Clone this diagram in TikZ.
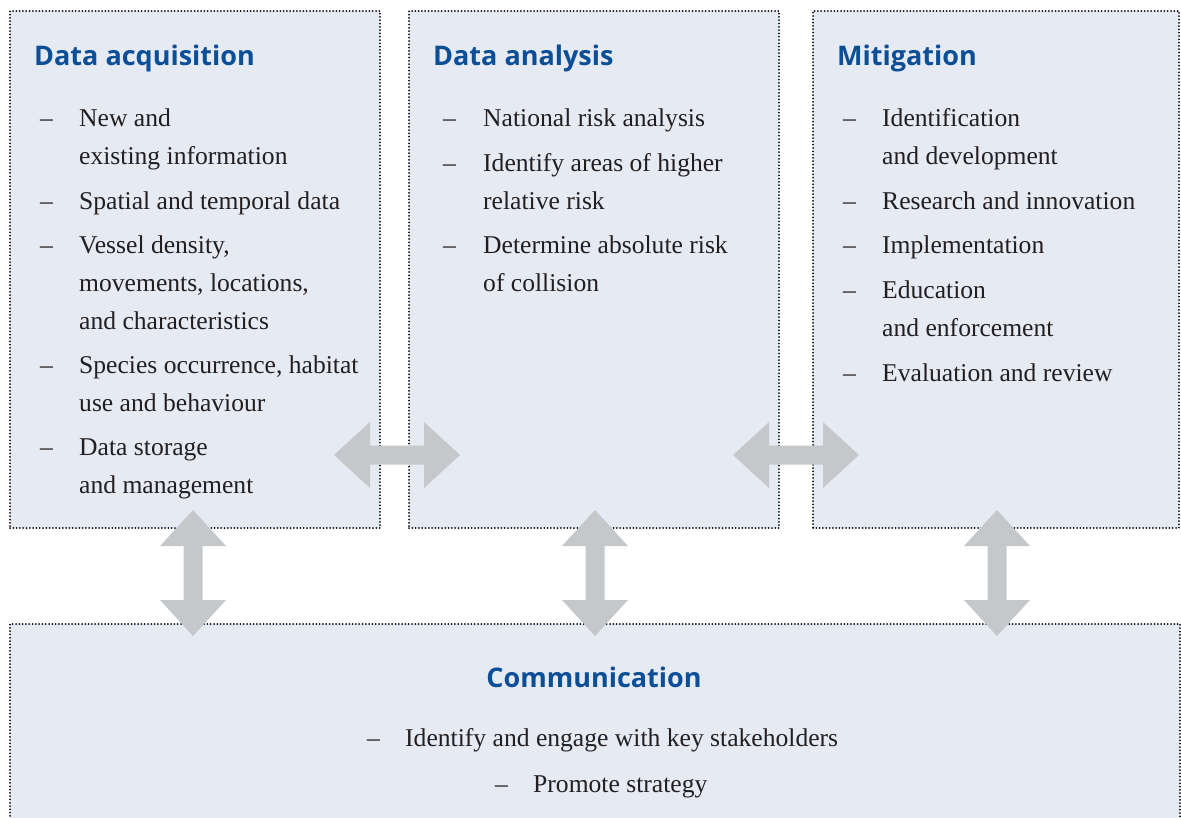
\documentclass[tikz,border=0pt]{standalone}
\usepackage{fontspec}
\setmainfont{Liberation Serif}
\newfontfamily\titlefont{Open Sans}
\definecolor{boxfill}{RGB}{230,234,243}
\definecolor{titleblue}{RGB}{12,79,150}
\definecolor{arrowgrey}{RGB}{197,200,202}
\definecolor{dotc}{RGB}{10,10,15}
\definecolor{txt}{RGB}{35,31,32}
\tikzset{
  box/.style={rectangle, draw=dotc, fill=boxfill, line width=2pt, dash pattern=on 0pt off 3.3pt, line cap=round, inner sep=0pt, anchor=north west},
  ttl/.style={anchor=base west, inner sep=0pt, text=titleblue, font=\titlefont\bfseries\fontsize{27}{30}\selectfont},
  bd/.style={anchor=base west, inner sep=0pt, text=txt, font=\fontsize{25.6}{30}\selectfont},
  harrow/.pic={\fill[arrowgrey] (-63,0) -- (-27,-33) -- (-27,-9.5) -- (27,-9.5) -- (27,-33) -- (63,0) -- (27,33) -- (27,9.5) -- (-27,9.5) -- (-27,33) -- cycle;}
}
\begin{document}
\begin{tikzpicture}[x=1pt,y=-1pt]
\useasboundingbox (0,0) rectangle (1181,817);
% boxes
\node[box, minimum width=370pt, minimum height=517pt] (acq) at (9,10) {};
\node[box, minimum width=370pt, minimum height=517pt] (ana) at (408,10) {};
\node[box, minimum width=366pt, minimum height=517pt] (mit) at (812,10) {};
\node[box, minimum width=1170pt, minimum height=240pt] (com) at (9,623) {};
% titles
\node[ttl] (t1) at (34,65) {Data acquisition};
\node[ttl] (t2) at (433,65) {Data analysis};
\node[ttl] (t3) at (837,65) {Mitigation};
\node[ttl, anchor=base] (t4) at (594,687) {Communication};
% box 1 items
\node[bd] (a1d) at (40,126) {--};
\node[bd] (a1a) at (79,126) {New and};
\node[bd] (a1b) at (79,164) {existing information};
\node[bd] (a2d) at (40,209) {--};
\node[bd] (a2a) at (79,209) {Spatial and temporal data};
\node[bd] (a3d) at (40,253) {--};
\node[bd] (a3a) at (79,253) {Vessel density,};
\node[bd] (a3b) at (79,291) {movements, locations,};
\node[bd] (a3c) at (79,329) {and characteristics};
\node[bd] (a4d) at (40,373) {--};
\node[bd] (a4a) at (79,373) {Species occurrence, habitat};
\node[bd] (a4b) at (79,411) {use and behaviour};
\node[bd] (a5d) at (40,455) {--};
\node[bd] (a5a) at (79,455) {Data storage};
\node[bd] (a5b) at (79,493) {and management};
% box 2 items
\node[bd] (b1d) at (443,126) {--};
\node[bd] (b1a) at (483,126) {National risk analysis};
\node[bd] (b2d) at (443,171) {--};
\node[bd] (b2a) at (483,171) {Identify areas of higher};
\node[bd] (b2b) at (483,209) {relative risk};
\node[bd] (b3d) at (443,253) {--};
\node[bd] (b3a) at (483,253) {Determine absolute risk};
\node[bd] (b3b) at (483,291) {of collision};
% box 3 items
\node[bd] (c1d) at (843,126) {--};
\node[bd] (c1a) at (882,126) {Identification};
\node[bd] (c1b) at (882,164) {and development};
\node[bd] (c2d) at (843,209) {--};
\node[bd] (c2a) at (882,209) {Research and innovation};
\node[bd] (c3d) at (843,253) {--};
\node[bd] (c3a) at (882,253) {Implementation};
\node[bd] (c4d) at (843,298) {--};
\node[bd] (c4a) at (882,298) {Education};
\node[bd] (c4b) at (882,336) {and enforcement};
\node[bd] (c5d) at (843,381) {--};
\node[bd] (c5a) at (882,381) {Evaluation and review};
% communication items
\node[bd] (e1d) at (367,746) {--};
\node[bd] (e1a) at (405,746) {Identify and engage with key stakeholders};
\node[bd] (e2d) at (495,792) {--};
\node[bd] (e2a) at (533,792) {Promote strategy};
% arrows
\pic at (397,455) {harrow};
\pic at (796,455) {harrow};
\pic[rotate=90] at (193,573) {harrow};
\pic[rotate=90] at (595,573) {harrow};
\pic[rotate=90] at (997,573) {harrow};
\end{tikzpicture}
\end{document}
